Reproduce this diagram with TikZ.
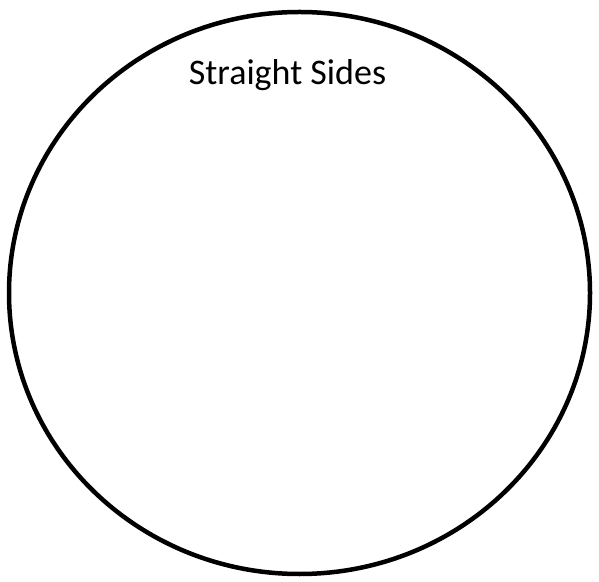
\documentclass[tikz,border=0pt]{standalone}
\usepackage{fontspec}
\setmainfont{Carlito}
\usepackage{tikz}
\usetikzlibrary{shapes.geometric, positioning}
\tikzset{
  outline/.style={ellipse, draw=black, line width=4.5pt,
    minimum width=581pt, minimum height=562pt, inner sep=0pt},
  title/.style={font=\fontsize{36}{43}\selectfont, inner sep=0pt, anchor=base}
}
\begin{document}
\begin{tikzpicture}[x=1pt, y=1pt]
  \useasboundingbox (0,0) rectangle (599,581);
  % Circle
  \node[outline] (circ) at (299.5, 288) {};

  % Label
  \node[title] (lbl) at (287.5, 496) {Straight Sides};
\end{tikzpicture}
\end{document}
